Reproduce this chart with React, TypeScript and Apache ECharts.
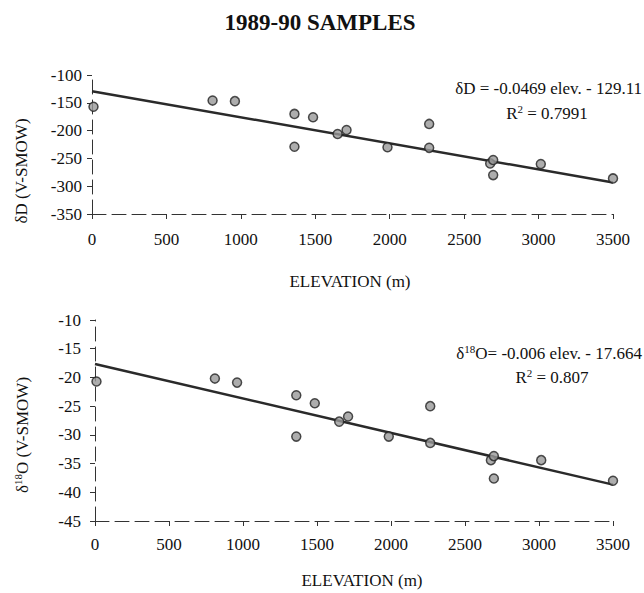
import React, { useEffect, useRef } from "react";
import * as echarts from "echarts";

// Sample elevations (m), shared by both panels
const elevation = [10, 810, 960, 1360, 1360, 1485, 1650, 1710, 1985, 2265, 2265, 2675, 2695, 2695, 3015, 3500];
// δD (V-SMOW)
const deltaD = [-157, -146, -147, -170, -229, -176, -206, -199, -230, -188, -231, -259, -253, -280, -260, -286];
// δ18O (V-SMOW)
const delta18O = [-20.7, -20.2, -20.9, -23.1, -30.3, -24.5, -27.7, -26.8, -30.3, -25.0, -31.4, -34.4, -33.7, -37.6, -34.4, -38.0];

// Regression fits as printed on the chart
const fitD = { slope: -0.0469, intercept: -129.11 };
const fitO = { slope: -0.006, intercept: -17.664 };
const fitRange = [0, 3500];

const FONT = "Liberation Serif";
const INK = "#111";

export default function App() {
  const ref = useRef<HTMLDivElement>(null);

  useEffect(() => {
    if (!ref.current) return;
    const chart = echarts.init(ref.current, undefined, { renderer: "svg" });

    const pointsD = elevation.map((e, i) => [e, deltaD[i]]);
    const pointsO = elevation.map((e, i) => [e, delta18O[i]]);
    const lineD = fitRange.map((x) => [x, fitD.slope * x + fitD.intercept]);
    const lineO = fitRange.map((x) => [x, fitO.slope * x + fitO.intercept]);

    const axisLineStyle = { color: "#333", width: 1, type: [14, 6] as any };
    const plain = (v: number) => String(v);

    const xAxisBase = (gridIndex: number, margin: number) => ({
      type: "value",
      gridIndex,
      min: 0,
      max: 3500,
      interval: 500,
      axisLine: { show: true, onZero: false, lineStyle: axisLineStyle },
      axisTick: { show: true, length: 5, lineStyle: { color: "#333" } },
      splitLine: { show: false },
      axisLabel: { fontSize: 17, fontFamily: FONT, color: INK, margin, formatter: plain },
    });

    const yAxisBase = (gridIndex: number, min: number, max: number, interval: number, margin: number) => ({
      type: "value",
      gridIndex,
      min,
      max,
      interval,
      axisLine: { show: true, onZero: false, lineStyle: axisLineStyle },
      axisTick: { show: true, length: 5, lineStyle: { color: "#333" } },
      splitLine: { show: false },
      axisLabel: { fontSize: 17, fontFamily: FONT, color: INK, margin, formatter: plain },
    });

    const pointStyle = { color: "#999", borderColor: "#222", borderWidth: 1.5 };
    const lineStyle = { color: "#2a2a2a", width: 2.5 };

    const txt = (x: number, y: number, text: string, opts: any = {}) => ({
      type: "text",
      x,
      y,
      rotation: opts.rotation || 0,
      style: {
        text,
        fontSize: opts.fontSize || 17,
        fontFamily: FONT,
        fontWeight: opts.fontWeight || "normal",
        fill: INK,
        align: opts.align || "center",
        verticalAlign: "middle",
        rich: {
          sup: { fontSize: 11, fontFamily: FONT, verticalAlign: "top", fill: INK, padding: [0, 0, 8, 0] },
        },
      },
    });

    chart.setOption({
      animation: false,
      backgroundColor: "#fff",
      grid: [
        { left: 92, top: 75, width: 521, height: 139 },
        { left: 95, top: 320, width: 518, height: 201 },
      ],
      xAxis: [xAxisBase(0, 17), xAxisBase(1, 15)],
      yAxis: [yAxisBase(0, -350, -100, 50, 10), yAxisBase(1, -45, -10, 5, 14)],
      series: [
        { type: "line", xAxisIndex: 0, yAxisIndex: 0, data: lineD, symbol: "none", lineStyle, z: 2 },
        { type: "scatter", xAxisIndex: 0, yAxisIndex: 0, data: pointsD, symbolSize: 9, itemStyle: pointStyle, z: 3 },
        { type: "line", xAxisIndex: 1, yAxisIndex: 1, data: lineO, symbol: "none", lineStyle, z: 2 },
        { type: "scatter", xAxisIndex: 1, yAxisIndex: 1, data: pointsO, symbolSize: 9, itemStyle: pointStyle, z: 3 },
      ],
      graphic: [
        txt(320, 22, "1989-90 SAMPLES", { fontSize: 23, fontWeight: "bold" }),
        txt(21, 171, "δD (V-SMOW)", { rotation: Math.PI / 2 }),
        txt(22, 435, "δ{sup|18}O (V-SMOW)", { rotation: Math.PI / 2 }),
        txt(350, 281, "ELEVATION (m)"),
        txt(362, 580, "ELEVATION (m)"),
        txt(642, 88, "δD = -0.0469 elev. - 129.11", { align: "right" }),
        txt(547, 113, "R{sup|2} = 0.7991"),
        txt(642, 353, "δ{sup|18}O= -0.006 elev. - 17.664", { align: "right" }),
        txt(552, 377, "R{sup|2} = 0.807"),
      ],
    });

    return () => chart.dispose();
  }, []);

  return (
    <div
      ref={ref}
      style={{ position: "fixed", left: 0, top: 0, width: 644, height: 593, background: "#fff" }}
    />
  );
}
